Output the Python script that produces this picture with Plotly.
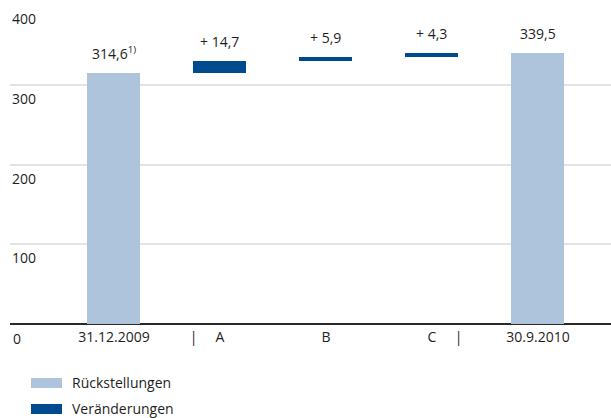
import plotly.graph_objects as go

# ---- data ----
categories = ["31.12.2009", "A", "B", "C", "30.9.2010"]
start_value = 314.6
changes = [14.7, 5.9, 4.3]
end_value = 339.5
start_label = "314,6<sup>1)</sup>"
change_labels = ["+ 14,7", "+ 5,9", "+ 4,3"]
end_label = "339,5"
y_ticks = [100, 200, 300, 400]
series_names = ["Rückstellungen", "Veränderungen"]

LIGHT = "#adc4dc"
DARK = "#004a8f"
TXT = "#1e1e1e"
FONT = "Open Sans"
FS = 14

x_pos = list(range(len(categories)))

bases = []
running = start_value
for c in changes:
    bases.append(running)
    running += c

fig = go.Figure()
fig.add_trace(go.Bar(
    x=[x_pos[0], x_pos[-1]], y=[start_value, end_value],
    marker=dict(color=LIGHT, line=dict(width=0)), width=0.5,
    name=series_names[0], showlegend=False, hoverinfo="skip",
))
fig.add_trace(go.Bar(
    x=x_pos[1:4], y=changes, base=bases,
    marker=dict(color=DARK, line=dict(width=0)), width=0.5,
    name=series_names[1], showlegend=False, hoverinfo="skip",
))

annotations = []
tops = [start_value] + [b + c for b, c in zip(bases, changes)] + [end_value]
labels = [start_label] + change_labels + [end_label]
for xp, top, lab in zip(x_pos, tops, labels):
    annotations.append(dict(x=xp, y=top, xref="x", yref="y", text=lab,
                            showarrow=False, xanchor="center", yanchor="bottom",
                            yshift=8, font=dict(family=FONT, size=FS, color=TXT)))

for t in y_ticks:
    annotations.append(dict(x=0, xref="paper", y=t, yref="y", text=str(t),
                            showarrow=False, xanchor="left", yanchor="top",
                            yshift=-2, font=dict(family=FONT, size=FS, color=TXT)))
annotations.append(dict(x=0, xref="paper", y=0, yref="y", text="0",
                        showarrow=False, xanchor="left", yanchor="top",
                        yshift=-3, xshift=1, font=dict(family=FONT, size=FS, color=TXT)))

shapes = []
plot_top, plot_bot, plot_left, W = 5, 324, 10, 601
def py(p):
    return (plot_bot - p) / (plot_bot - plot_top)
def px(p):
    return (p - plot_left) / W
leg_rows = [383, 409]
leg_cols = [LIGHT, DARK]
for name, col, row in zip(series_names, leg_cols, leg_rows):
    shapes.append(dict(type="rect", xref="paper", yref="paper",
                       x0=px(31), x1=px(62), y0=py(row + 5), y1=py(row - 5),
                       fillcolor=col, line=dict(width=0)))
    annotations.append(dict(x=px(70), xref="paper", y=py(row - 1), yref="paper",
                            text=name, showarrow=False, xanchor="left", yanchor="middle",
                            font=dict(family=FONT, size=FS, color=TXT)))

tickvals = [0, 0.75, 1, 2, 3, 3.25, 4]
ticktext = [categories[0], "|", categories[1], categories[2], categories[3], "|", categories[4]]

fig.update_layout(
    width=611, height=418,
    margin=dict(l=plot_left, r=0, t=plot_top, b=418 - plot_bot),
    plot_bgcolor="white", paper_bgcolor="white",
    bargap=0, barmode="overlay",
    xaxis=dict(range=[-0.981, 4.689], tickvals=tickvals, ticktext=ticktext,
               showgrid=False, zeroline=False, showline=False, ticks="",
               ticklabelstandoff=3,
               tickfont=dict(family=FONT, size=FS, color=TXT), fixedrange=True),
    yaxis=dict(range=[0, 400], tickvals=y_ticks, showticklabels=False,
               showgrid=True, gridcolor="#e3e3e3", gridwidth=2,
               zeroline=True, zerolinecolor="#2a2a2a", zerolinewidth=1.5,
               showline=False, ticks=""),
    annotations=annotations, shapes=shapes,
    showlegend=False,
)

fig.write_html("out.html")
